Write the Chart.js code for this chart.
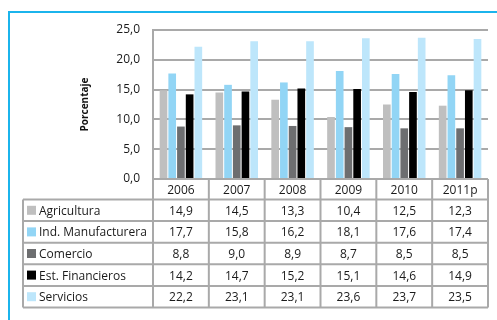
<!DOCTYPE html>
<html lang="es">
<head>
  <meta charset="UTF-8" />
  <title>Participación por sector</title>
  <script src="https://cdn.jsdelivr.net/npm/chart.js"></script>
  <style>
    html, body { margin: 0; padding: 0; background: #fff; overflow: hidden; }
    #wrap { position: relative; width: 497px; height: 320px; }
    #frame { position: absolute; left: 8px; top: 11px; width: 600px; height: 400px;
             border: 2px solid #1bb4ec; box-sizing: border-box; }
    canvas { position: absolute; left: 0; top: 0; }
  </style>
</head>
<body>
  <div id="wrap">
    <div id="frame"></div>
    <canvas id="sectorChart" width="497" height="320"></canvas>
  </div>

  <script>
    const years = ["2006", "2007", "2008", "2009", "2010", "2011p"];
    const sectors = ["Agricultura", "Ind. Manufacturera", "Comercio", "Est. Financieros", "Servicios"];
    const agricultura = [14.9, 14.5, 13.3, 10.4, 12.5, 12.3];
    const manufactura = [17.7, 15.8, 16.2, 18.1, 17.6, 17.4];
    const comercio = [8.8, 9.0, 8.9, 8.7, 8.5, 8.5];
    const financieros = [14.2, 14.7, 15.2, 15.1, 14.6, 14.9];
    const servicios = [22.2, 23.1, 23.1, 23.6, 23.7, 23.5];
    const colores = ["#bfbfbf", "#92d5f5", "#6d6e70", "#000000", "#bde6fb"];

    const series = [agricultura, manufactura, comercio, financieros, servicios];
    const fmt = v => v.toFixed(1).replace(".", ",");
    const gridColor = "#a9a9a9";

    // data table under the plot, columns follow the category scale
    const tablePlugin = {
      id: "dataTable",
      afterDraw(chart) {
        const ctx = chart.ctx;
        const area = chart.chartArea;
        const colW = (area.right - area.left) / years.length;
        const tableLeft = 23;
        const headTop = area.bottom;
        const headBottom = headTop + 20.5;
        const rowH = 21.6;
        const tableBottom = headBottom + rowH * sectors.length;

        ctx.save();
        ctx.strokeStyle = gridColor;
        ctx.lineWidth = 2;
        ctx.beginPath();
        // horizontal lines
        ctx.moveTo(area.left, headTop); ctx.lineTo(area.right, headTop);
        for (let i = 0; i <= sectors.length; i++) {
          const y = headBottom + rowH * i;
          ctx.moveTo(tableLeft, y); ctx.lineTo(area.right, y);
        }
        // vertical lines
        ctx.moveTo(tableLeft, headBottom); ctx.lineTo(tableLeft, tableBottom);
        for (let j = 0; j <= years.length; j++) {
          const x = area.left + colW * j;
          ctx.moveTo(x, headTop); ctx.lineTo(x, tableBottom);
        }
        ctx.stroke();

        ctx.fillStyle = "#1a1a1a";
        ctx.font = "12px 'Open Sans'";
        ctx.textAlign = "center";
        ctx.textBaseline = "middle";
        years.forEach((yr, j) => {
          ctx.fillText(yr, area.left + colW * (j + 0.5), (headTop + headBottom) / 2 + 1);
        });

        sectors.forEach((name, i) => {
          const yMid = headBottom + rowH * (i + 0.5) + 1;
          ctx.fillStyle = colores[i];
          ctx.fillRect(27, yMid - 5.5, 9, 9);
          ctx.fillStyle = "#1a1a1a";
          ctx.textAlign = "left";
          ctx.font = "12px 'Open Sans'";
          ctx.fillText(name, 39, yMid);
          ctx.textAlign = "center";
          series[i].forEach((v, j) => {
            ctx.fillText(fmt(v), area.left + colW * (j + 0.5), yMid);
          });
        });
        ctx.restore();
      }
    };

    new Chart(document.getElementById("sectorChart"), {
      type: "bar",
      data: {
        labels: years,
        datasets: sectors.map((name, i) => ({
          label: name,
          data: series[i],
          backgroundColor: colores[i],
          borderWidth: 0,
          categoryPercentage: 0.78,
          barPercentage: 0.88
        }))
      },
      options: {
        responsive: false,
        animation: false,
        layout: { padding: { left: 76, top: 30, right: 9, bottom: 141 } },
        plugins: { legend: { display: false }, tooltip: { enabled: false } },
        scales: {
          x: {
            display: false,
            grid: { display: false }
          },
          y: {
            min: 0,
            max: 25,
            afterFit(scale) { scale.width = 77; },
            ticks: {
              stepSize: 5,
              padding: 13,
              color: "#1a1a1a",
              font: { family: "'Open Sans'", size: 12 },
              callback: v => fmt(v)
            },
            grid: { color: gridColor, lineWidth: 2, drawTicks: false },
            border: { color: gridColor, width: 2 },
            title: {
              display: true,
              text: "Porcentaje",
              color: "#111",
              padding: 3,
              font: { family: "'Open Sans'", size: 10, weight: "bold" }
            }
          }
        }
      },
      plugins: [tablePlugin]
    });
  </script>
</body>
</html>
